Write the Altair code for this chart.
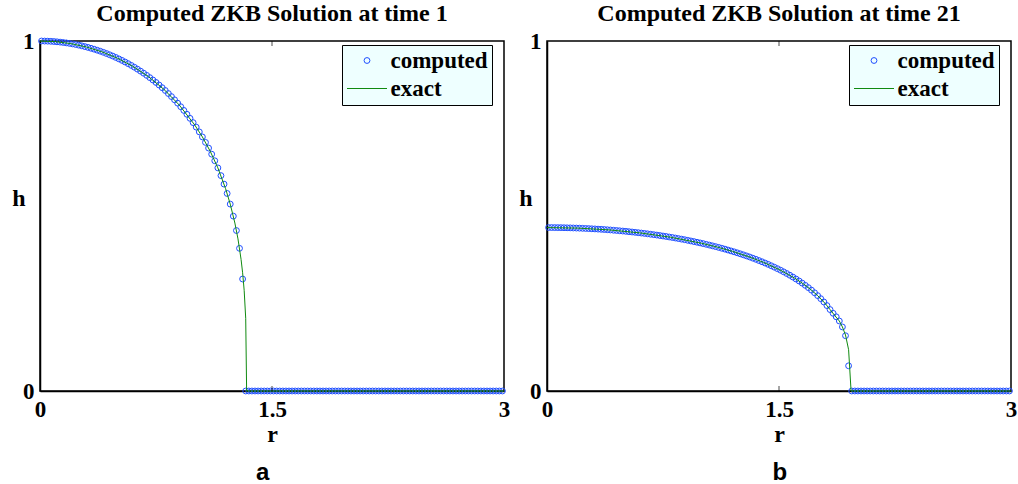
import altair as alt
import numpy as np
import pandas as pd

# Radial grid: cell centres with dr = 0.02 on [0, 3]
r_cells = np.round(np.arange(0.01, 3.0, 0.02), 2)

# Computed depth h at time 1, wet cells r = 0.01 ... 1.31
h_t1_wet = [
    1.000, 0.9998, 0.9995, 0.9991, 0.9985, 0.9977, 0.9968, 0.9958, 0.9946, 0.9932,
    0.9917, 0.9900, 0.9882, 0.9862, 0.9840, 0.9817, 0.9792, 0.9766, 0.9737, 0.9708,
    0.9676, 0.9642, 0.9607, 0.9570, 0.9530, 0.9489, 0.9446, 0.9400, 0.9353, 0.9303,
    0.9251, 0.9196, 0.9139, 0.9080, 0.9018, 0.8953, 0.8886, 0.8816, 0.8742, 0.8666,
    0.8586, 0.8499, 0.8412, 0.8320, 0.8224, 0.8123, 0.8017, 0.7906, 0.7790, 0.7668,
    0.7539, 0.7403, 0.7259, 0.7103, 0.6941, 0.6767, 0.6578, 0.6375, 0.6154, 0.5911,
    0.5644, 0.5340, 0.4996, 0.4585, 0.4076, 0.320,
]
# Computed depth h at time 21, wet cells r = 0.01 ... 1.95
h_t21_wet = [
    0.4670, 0.4670, 0.4669, 0.4668, 0.4667, 0.4665, 0.4663, 0.4661, 0.4658, 0.4655,
    0.4652, 0.4648, 0.4644, 0.4640, 0.4635, 0.4631, 0.4625, 0.4620, 0.4614, 0.4607,
    0.4601, 0.4593, 0.4586, 0.4578, 0.4570, 0.4562, 0.4552, 0.4543, 0.4533, 0.4523,
    0.4513, 0.4502, 0.4491, 0.4479, 0.4467, 0.4455, 0.4442, 0.4428, 0.4415, 0.4400,
    0.4386, 0.4371, 0.4355, 0.4339, 0.4323, 0.4305, 0.4287, 0.4269, 0.4250, 0.4231,
    0.4211, 0.4190, 0.4169, 0.4147, 0.4125, 0.4102, 0.4078, 0.4054, 0.4028, 0.4002,
    0.3976, 0.3948, 0.3919, 0.3890, 0.3860, 0.3829, 0.3796, 0.3763, 0.3728, 0.3693,
    0.3656, 0.3618, 0.3578, 0.3537, 0.3495, 0.3451, 0.3405, 0.3357, 0.3307, 0.3255,
    0.3200, 0.3143, 0.3083, 0.3019, 0.2953, 0.2882, 0.2806, 0.2725, 0.2638, 0.2544,
    0.2441, 0.2327, 0.222, 0.212, 0.200, 0.183, 0.158, 0.072,
]
# Cells past the front are dry
h_t1 = h_t1_wet + [0.0] * (len(r_cells) - len(h_t1_wet))
h_t21 = h_t21_wet + [0.0] * (len(r_cells) - len(h_t21_wet))

# Exact ZKB profiles
exact_r_t1 = [0.0, 0.1, 0.2, 0.3, 0.4, 0.5, 0.6, 0.7, 0.8, 0.9, 1.0, 1.05, 1.1,
              1.15, 1.2, 1.23, 1.26, 1.28, 1.30, 1.31, 1.32, 1.33, 1.336, 3.0]
exact_h_t1 = [1.0, 0.9981, 0.9925, 0.9829, 0.9692, 0.9510, 0.9277, 0.8986, 0.8624,
              0.8174, 0.7604, 0.7259, 0.6855, 0.6375, 0.5781, 0.5340, 0.4799, 0.4346,
              0.3760, 0.3378, 0.2877, 0.2077, 0.0, 0.0]
exact_r_t21 = [0.0, 0.2, 0.4, 0.6, 0.8, 1.0, 1.1, 1.2, 1.3, 1.4, 1.5, 1.6, 1.65,
               1.7, 1.75, 1.8, 1.83, 1.86, 1.89, 1.91, 1.93, 1.95, 1.966, 3.0]
exact_h_t21 = [0.467, 0.4654, 0.4604, 0.4518, 0.4393, 0.4221, 0.4113, 0.3989, 0.3844,
               0.3675, 0.3473, 0.3228, 0.3083, 0.2918, 0.2725, 0.2494, 0.2327, 0.216,
               0.200, 0.183, 0.160, 0.118, 0.0, 0.0]

series_names = ["computed", "exact"]
x_ticks = [0, 1.5, 3]
y_ticks = [0, 1]

SERIF = "Liberation Serif"
SANS = "Liberation Sans"
BLUE = "#1f4fff"
GREEN = "#108a10"
W, H = 464, 350


def profile_panel(h_cells, er, eh, title):
    cells = pd.DataFrame({"r": r_cells, "h": h_cells, "series": "computed"})
    exact = pd.DataFrame({"r": er, "h": eh})
    inner_ticks = pd.DataFrame({"r": [1.5, 1.5], "h": [0.0, 1.0]})

    x = alt.X("r:Q", scale=alt.Scale(domain=[0, 3], nice=False, zero=False),
              axis=alt.Axis(values=x_ticks, format=".1~f", title="r", ticks=False,
                            labelPadding=7, labelFlush=False, grid=False,
                            titleBaseline="alphabetic", titleY=50))
    y = alt.Y("h:Q", scale=alt.Scale(domain=[0, 1], nice=False, zero=False),
              axis=alt.Axis(values=y_ticks, format=".1~f", title="h", ticks=False,
                            labelPadding=6, labelFlush=False, grid=False,
                            titleAngle=0, titleAlign="center",
                            titleBaseline="alphabetic", titleX=-21.5, titleY=164))

    legend = alt.Legend(title=None, orient="none", legendX=302, legendY=4,
                        fillColor="#EEFFFF", strokeColor="black", padding=4,
                        labelFont=SERIF, labelFontSize=23, labelFontWeight="bold",
                        labelColor="black", symbolOffset=9.5, labelOffset=12,
                        rowPadding=4, symbolSize=34, symbolStrokeWidth=1)

    points = alt.Chart(cells).mark_point(filled=False, size=34, strokeWidth=1,
                                         opacity=1).encode(
        x=x, y=y,
        color=alt.Color("series:N",
                        scale=alt.Scale(domain=series_names, range=[BLUE, GREEN]),
                        legend=legend),
        shape=alt.Shape("series:N",
                        scale=alt.Scale(domain=series_names,
                                        range=["circle", "M-6.86,0H6.86"]),
                        legend=legend),
    )
    line = alt.Chart(exact).mark_line(color=GREEN, strokeWidth=1).encode(x=x, y=y)
    ticks = alt.Chart(inner_ticks).mark_tick(orient="vertical", size=10, thickness=1,
                                             color="black", clip=True).encode(x=x, y=y)

    return alt.layer(points, line, ticks).properties(
        width=W, height=H,
        title=alt.TitleParams(title, font=SERIF, fontSize=24, fontWeight="bold",
                              color="black", anchor="middle", offset=4),
    )


def captioned(panel, caption, dx):
    return alt.vconcat(panel, title=alt.TitleParams(
        caption, orient="bottom", font=SANS, fontSize=24, fontWeight="bold",
        color="black", anchor="middle", offset=14, dx=dx))


left = captioned(profile_panel(h_t1, exact_r_t1, exact_h_t1,
                               "Computed ZKB Solution at time 1"), "a", 2)
right = captioned(profile_panel(h_t21, exact_r_t21, exact_h_t21,
                                "Computed ZKB Solution at time 21"), "b", 12)

chart = (
    alt.hconcat(left, right, spacing=7)
    .resolve_scale(color="independent", shape="independent")
    .resolve_legend(color="independent", shape="independent")
    .properties(padding={"left": 11, "top": 1, "right": 0, "bottom": 0})
    .configure(background="white")
    .configure_view(stroke="black", strokeWidth=1.5)
    .configure_axis(domainColor="black", domainWidth=1.5,
                    labelFont=SERIF, labelFontSize=23, labelFontWeight="bold",
                    labelColor="black", titleFont=SERIF, titleFontSize=24,
                    titleFontWeight="bold", titleColor="black")
)

chart.save("out.html", embed_options={"renderer": "svg", "actions": False})
